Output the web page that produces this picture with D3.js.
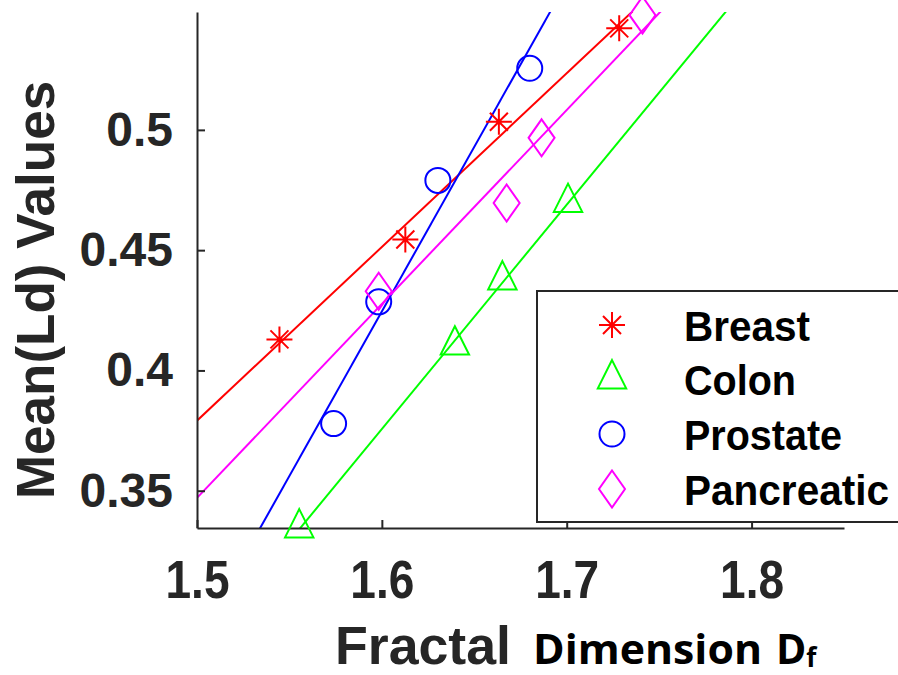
<!DOCTYPE html>
<html><head><meta charset="utf-8">
<script src="https://cdn.jsdelivr.net/npm/d3@7"></script>
<style>body{margin:0;background:#fff}svg{display:block}</style>
</head><body>
<script>
// ---- data ----
const seriesNames = ["Breast", "Colon", "Prostate", "Pancreatic"];
const breastX = [1.5446, 1.6127, 1.6633, 1.7284];
const breastY = [0.4129, 0.4544, 0.5034, 0.5422];
const colonX = [1.5553, 1.6395, 1.6652, 1.7007];
const colonY = [0.3345, 0.4105, 0.4376, 0.4698];
const prostateX = [1.5739, 1.5983, 1.6303, 1.6800];
const prostateY = [0.3779, 0.4285, 0.4790, 0.5256];
const pancreaticX = [1.5983, 1.6675, 1.6864, 1.7410];
const pancreaticY = [0.4329, 0.4696, 0.4967, 0.5477];
const xTicks = [1.5, 1.6, 1.7, 1.8];
const yTicks = [0.35, 0.4, 0.45, 0.5];
const xTickLabels = ["1.5", "1.6", "1.7", "1.8"];
const yTickLabels = ["0.35", "0.4", "0.45", "0.5"];
const xDomain = [1.5, 1.85];
const yDomain = [0.3345, 0.549];
const colors = ["#ff0000", "#00ff00", "#0000ff", "#ff00ff"];
const markers = ["asterisk", "triangle", "circle", "diamond"];

const series = [
  {name: seriesNames[0], xs: breastX, ys: breastY},
  {name: seriesNames[1], xs: colonX, ys: colonY},
  {name: seriesNames[2], xs: prostateX, ys: prostateY},
  {name: seriesNames[3], xs: pancreaticX, ys: pancreaticY}
];

// ---- layout ----
const W = 898, H = 675;
const L = 197, R = 844, T = 12, B = 528;
const AX = "#262626";
const FONT = "'Liberation Sans', Arial, sans-serif";

const svg = d3.select("body").append("svg").attr("width", W).attr("height", H)
  .style("font-family", FONT);
const x = d3.scaleLinear().domain(xDomain).range([L, R]);
const y = d3.scaleLinear().domain(yDomain).range([B, T]);

svg.append("clipPath").attr("id", "plot").append("rect")
  .attr("x", L).attr("y", T).attr("width", R - L).attr("height", B - T);

function markerPath(type) {
  switch (type) {
    case "asterisk": return "M0,-13V13M-13,0H13M-9,-9L9,9M-9,9L9,-9";
    case "triangle": return "M0,-18.9L14.2,9.4L-14.2,9.4Z";
    case "diamond": return "M0,-18.5L13,0L0,18.5L-13,0Z";
    default: return null;
  }
}
function drawMarker(g, type, color) {
  if (type === "circle") {
    g.append("circle").attr("r", 12.5).attr("fill", "none")
      .attr("stroke", color).attr("stroke-width", 2);
  } else {
    g.append("path").attr("d", markerPath(type)).attr("fill", "none")
      .attr("stroke", color).attr("stroke-width", 2);
  }
}

// least-squares fit lines
function fit(xs, ys) {
  const mx = d3.mean(xs), my = d3.mean(ys);
  let sxy = 0, sxx = 0;
  xs.forEach((v, i) => { sxy += (v - mx) * (ys[i] - my); sxx += (v - mx) * (v - mx); });
  const m = sxy / sxx;
  return v => my + m * (v - mx);
}

const lines = svg.append("g").attr("clip-path", "url(#plot)");
series.forEach((s, i) => {
  const f = fit(s.xs, s.ys);
  const pts = xDomain.map(v => [x(v), y(f(v))]);
  lines.append("path").attr("d", d3.line()(pts)).attr("fill", "none")
    .attr("stroke", colors[i]).attr("stroke-width", 2);
});

// axes
const yAxis = d3.axisLeft(y).tickValues(yTicks)
  .tickFormat((d, i) => yTickLabels[i]).tickSizeInner(-8).tickSizeOuter(0).tickPadding(24);
const gy = svg.append("g").attr("transform", `translate(${L},0)`).call(yAxis);
const xAxis = d3.axisBottom(x).tickValues(xTicks)
  .tickFormat((d, i) => xTickLabels[i]).tickSizeInner(-8).tickSizeOuter(0).tickPadding(32);
const gx = svg.append("g").attr("transform", `translate(0,${B})`).call(xAxis);
[gx, gy].forEach(g => {
  g.select(".domain").attr("stroke", AX).attr("stroke-width", 2);
  g.selectAll(".tick line").attr("stroke", AX).attr("stroke-width", 2);
  g.selectAll(".tick text").attr("fill", AX).attr("font-family", FONT).attr("font-weight", "bold");
});
gy.selectAll(".tick text").attr("font-size", 48);
gx.selectAll(".tick text").attr("font-size", 53).attr("textLength", 64)
  .attr("lengthAdjust", "spacingAndGlyphs");

// markers
series.forEach((s, i) => {
  s.xs.forEach((v, j) => {
    const g = svg.append("g").attr("transform", `translate(${x(v)},${y(s.ys[j])})`);
    drawMarker(g, markers[i], colors[i]);
  });
});

// legend
const lg = svg.append("g");
lg.append("rect").attr("x", 537).attr("y", 291).attr("width", 420).attr("height", 231)
  .attr("fill", "#fff").attr("stroke", AX).attr("stroke-width", 2);
const rowY = [325, 379, 434, 489];
const legendW = [126, 112, 158, 205];
series.forEach((s, i) => {
  const g = lg.append("g").attr("transform", `translate(612,${rowY[i]})`);
  drawMarker(g, markers[i], colors[i]);
  lg.append("text").attr("x", 684).attr("y", rowY[i] + 15.5)
    .attr("font-size", 42).attr("font-weight", "bold").attr("fill", "#000")
    .attr("textLength", legendW[i]).attr("lengthAdjust", "spacingAndGlyphs").text(s.name);
});

// axis titles
svg.append("text").attr("transform", "translate(54,290) rotate(-90)")
  .attr("text-anchor", "middle").attr("font-size", 53).attr("font-weight", "bold")
  .attr("fill", AX).text("Mean(Ld) Values");

svg.append("text").attr("x", 335).attr("y", 664).attr("font-size", 54)
  .attr("font-weight", "bold").attr("fill", AX)
  .attr("textLength", 176).attr("lengthAdjust", "spacingAndGlyphs").text("Fractal");
const t2 = svg.append("text").attr("y", 664)
  .attr("font-family", "'Open Sans', sans-serif").attr("font-size", 41)
  .attr("font-weight", "bold").attr("fill", "#000");
t2.append("tspan").attr("x", 533).attr("textLength", 229)
  .attr("lengthAdjust", "spacingAndGlyphs").text("Dimension");
t2.append("tspan").attr("x", 776).text("D");
t2.append("tspan").attr("font-size", 26).attr("dy", 3).text("f");
</script>
</body></html>
